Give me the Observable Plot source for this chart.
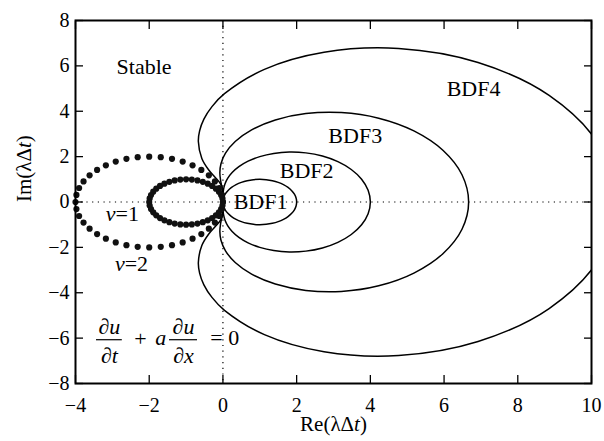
<!DOCTYPE html>
<html><head><meta charset="utf-8">
<script src="https://cdn.jsdelivr.net/npm/d3@7"></script>
<script src="https://cdn.jsdelivr.net/npm/@observablehq/plot@0.6"></script>
<style>
body{margin:0;background:#fff}
svg, svg text, svg tspan { font-family: "Liberation Serif", "Tinos", "DejaVu Serif", "Times New Roman", serif !important; }
</style>
</head><body><div id="chart"></div>
<script>
// ---- data ----
const xTicks = [-4, -2, 0, 2, 4, 6, 8, 10];
const yTicks = [-8, -6, -4, -2, 0, 2, 4, 6, 8];

const bdf1X = [0,0.0152,0.0603,0.134,0.234,0.3572,0.5,0.658,0.8264,1,1.1736,1.342,1.5,1.6428,1.766,1.866,1.9397,1.9848,2,
  1.9848,1.9397,1.866,1.766,1.6428,1.5,1.342,1.1736,1,0.8264,0.658,0.5,0.3572,0.234,0.134,0.0603,0.0152];
const bdf1Y = [0,0.1736,0.342,0.5,0.6428,0.766,0.866,0.9397,0.9848,1,0.9848,0.9397,0.866,0.766,0.6428,0.5,0.342,0.1736,0,
  -0.1736,-0.342,-0.5,-0.6428,-0.766,-0.866,-0.9397,-0.9848,-1,-0.9848,-0.9397,-0.866,-0.766,-0.6428,-0.5,-0.342,-0.1736];

const bdf2X = [0,0.0002,0.0036,0.0179,0.0547,0.1276,0.25,0.4329,0.6829,1,1.3775,1.801,2.25,2.6988,3.1189,3.4821,3.7624,3.9395,4,
  3.9395,3.7624,3.4821,3.1189,2.6988,2.25,1.801,1.3775,1,0.6829,0.4329,0.25,0.1276,0.0547,0.0179,0.0036,0.0002];
const bdf2Y = [0,0.1763,0.3627,0.567,0.7932,1.0397,1.299,1.558,1.7986,2,2.1406,2.2008,2.1651,2.0245,1.778,1.433,1.0054,0.5183,0,
  -0.5183,-1.0054,-1.433,-1.778,-2.0245,-2.1651,-2.2008,-2.1406,-2,-1.7986,-1.558,-1.299,-1.0397,-0.7932,-0.567,-0.3627,-0.1763];

const bdf3X = [0,-0.0002,-0.0033,-0.0147,-0.0377,-0.0668,-0.0833,-0.0531,0.0695,0.3333,0.7781,1.4217,2.25,3.2126,4.2253,5.1814,5.9682,6.486,6.6667,
  6.486,5.9682,5.1814,4.2253,3.2126,2.25,1.4217,0.7781,0.3333,0.0695,-0.0531,-0.0833,-0.0668,-0.0377,-0.0147,-0.0033,-0.0002];
const bdf3Y = [0,0.1746,0.3506,0.5343,0.7398,0.9876,1.299,1.6882,2.1527,2.6667,3.1788,3.6166,3.8971,3.942,3.6943,3.1324,2.2789,1.2007,0,
  -1.2007,-2.2789,-3.1324,-3.6943,-3.942,-3.8971,-3.6166,-3.1788,-2.6667,-2.1527,-1.6882,-1.299,-0.9876,-0.7398,-0.5343,-0.3506,-0.1746];

const bdf4X = [0,0,-0.0005,-0.0058,-0.0282,-0.089,-0.2083,-0.3848,-0.5722,-0.6667,-0.6326,-0.5163,-0.2973,0.042,1.125,2.744,4.7669,6.9225,8.8503,10.1879,10.6667,
  10.1879,8.8503,6.9225,4.7669,2.744,1.125,0.042,-0.2973,-0.5163,-0.6326,-0.6667,-0.5722,-0.3848,-0.2083,-0.089,-0.0282,-0.0058,-0.0005,0];
const bdf4Y = [0,0.1745,0.3482,0.5187,0.6859,0.8619,1.0825,1.4099,1.9191,2.6667,3.1323,3.6499,4.2044,4.7742,5.8457,6.5998,6.7658,6.1479,4.6974,2.5481,0,
  -2.5481,-4.6974,-6.1479,-6.7658,-6.5998,-5.8457,-4.7742,-4.2044,-3.6499,-3.1323,-2.6667,-1.9191,-1.4099,-1.0825,-0.8619,-0.6859,-0.5187,-0.3482,-0.1745];

// eigenvalue dots, large circle
const bigX = [0,-0.025,-0.098,-0.218,-0.382,-0.586,-0.824,-1.092,-1.382,-1.687,-2,-2.313,-2.618,-2.908,-3.176,-3.414,-3.618,-3.782,-3.902,-3.975,-4,
  -3.975,-3.902,-3.782,-3.618,-3.414,-3.176,-2.908,-2.618,-2.313,-2,-1.687,-1.382,-1.092,-0.824,-0.586,-0.382,-0.218,-0.098,-0.025];
const bigY = [0,0.313,0.618,0.908,1.176,1.414,1.618,1.782,1.902,1.975,2,1.975,1.902,1.782,1.618,1.414,1.176,0.908,0.618,0.313,0,
  -0.313,-0.618,-0.908,-1.176,-1.414,-1.618,-1.782,-1.902,-1.975,-2,-1.975,-1.902,-1.782,-1.618,-1.414,-1.176,-0.908,-0.618,-0.313];
// eigenvalue dots, small circle
const smallX = [0,-0.012,-0.049,-0.109,-0.191,-0.293,-0.412,-0.546,-0.691,-0.844,-1,-1.156,-1.309,-1.454,-1.588,-1.707,-1.809,-1.891,-1.951,-1.988,-2,
  -1.988,-1.951,-1.891,-1.809,-1.707,-1.588,-1.454,-1.309,-1.156,-1,-0.844,-0.691,-0.546,-0.412,-0.293,-0.191,-0.109,-0.049,-0.012];
const smallY = [0,0.156,0.309,0.454,0.588,0.707,0.809,0.891,0.951,0.988,1,0.988,0.951,0.891,0.809,0.707,0.588,0.454,0.309,0.156,0,
  -0.156,-0.309,-0.454,-0.588,-0.707,-0.809,-0.891,-0.951,-0.988,-1,-0.988,-0.951,-0.891,-0.809,-0.707,-0.588,-0.454,-0.309,-0.156];

const labelText = ["Stable", "BDF1", "BDF2", "BDF3", "BDF4", "ν=1", "ν=2"];
const labelX = [-2.14, 1.02, 2.27, 3.59, 6.80, -2.73, -2.48];
const labelY = [5.96, 0.0, 1.375, 2.92, 4.98, -0.53, -2.74];

const eqItalicText = ["∂u", "∂t", "a", "∂u", "∂x"];
const eqItalicX = [-3.08, -3.08, -1.69, -1.07, -1.07];
const eqItalicY = [-5.52, -6.79, -6.00, -5.52, -6.79];
const eqUprightText = ["+", "= 0"];
const eqUprightX = [-2.24, 0.05];
const eqUprightY = [-6.04, -6.00];
const fracBarX1 = [-3.43, -1.45];
const fracBarX2 = [-2.73, -0.69];
const fracBarY = [-6.07, -6.07];

// ---- tables ----
const curves = [];
[["BDF1", bdf1X, bdf1Y], ["BDF2", bdf2X, bdf2Y], ["BDF3", bdf3X, bdf3Y], ["BDF4", bdf4X, bdf4Y]]
  .forEach(([name, xs, ys]) => xs.forEach((x, i) => curves.push({name, x, y: ys[i]})));
const dots = [];
bigX.forEach((x, i) => dots.push({x, y: bigY[i]}));
smallX.forEach((x, i) => dots.push({x, y: smallY[i]}));
const labels = labelText.map((t, i) => ({t, x: labelX[i], y: labelY[i]}));
const eqI = eqItalicText.map((t, i) => ({t, x: eqItalicX[i], y: eqItalicY[i]}));
const eqU = eqUprightText.map((t, i) => ({t, x: eqUprightX[i], y: eqUprightY[i]}));
const bars = fracBarY.map((y, i) => ({y, x1: fracBarX1[i], x2: fracBarX2[i]}));

const font = "Liberation Serif, Tinos, DejaVu Serif, serif";
const svg = Plot.plot({
  width: 604, height: 441,
  marginLeft: 75, marginRight: 13, marginTop: 20, marginBottom: 58,
  x: {domain: [-4, 10]},
  y: {domain: [-8, 8]},
  style: {fontSize: "20px", color: "black", background: "white"},
  marks: [
    Plot.ruleX([0], {stroke: "black", strokeWidth: 1.2, strokeDasharray: "1.2,4.5"}),
    Plot.ruleY([0], {stroke: "black", strokeWidth: 1.2, strokeDasharray: "1.2,4.5"}),
    Plot.line(curves, {x: "x", y: "y", z: "name", curve: "catmull-rom-closed", stroke: "black", strokeWidth: 1.5, clip: true}),
    Plot.dot(dots, {x: "x", y: "y", r: 3.1, fill: "#111", stroke: null}),
    Plot.text(labels, {x: "x", y: "y", text: "t", fontSize: 22, fill: "black", fontFamily: font}),
    Plot.text(eqI, {x: "x", y: "y", text: "t", fontSize: 22, fontStyle: "italic", fill: "black", fontFamily: font}),
    Plot.text(eqU, {x: "x", y: "y", text: "t", fontSize: 22, fill: "black", fontFamily: font}),
    Plot.ruleY(bars, {y: "y", x1: "x1", x2: "x2", stroke: "black", strokeWidth: 1.2}),
    Plot.frame({stroke: "black", strokeWidth: 2}),
    // inward ticks
    Plot.axisX(xTicks, {anchor: "bottom", tickSize: 8, dy: -8, tickFormat: () => "", label: null, strokeWidth: 1.3}),
    Plot.axisX(xTicks, {anchor: "top", tickSize: 8, dy: 8, tickFormat: () => "", label: null, strokeWidth: 1.3}),
    Plot.axisY(yTicks, {anchor: "left", tickSize: 8, dx: 8, tickFormat: () => "", label: null, strokeWidth: 1.3}),
    Plot.axisY(yTicks, {anchor: "right", tickSize: 8, dx: -8, tickFormat: () => "", label: null, strokeWidth: 1.3}),
    // tick labels
    Plot.axisX(xTicks, {anchor: "bottom", tickSize: 0, tickPadding: 14, label: null, fontSize: 20, fill: "black", fontFamily: font}),
    Plot.axisY(yTicks, {anchor: "left", tickSize: 0, tickPadding: 6, label: null, fontSize: 20, fill: "black", fontFamily: font}),
    // axis titles
    Plot.text(["Re(λΔt)"], {frameAnchor: "bottom", dy: 47, fontSize: 21, fill: "black", fontFamily: font}),
    Plot.text(["Im(λΔt)"], {frameAnchor: "left", dx: -51, rotate: -90, fontSize: 21, fill: "black", fontFamily: font})
  ]
});

const rich = {
  "Re(λΔt)": [["Re(λΔ", 0], ["t", 1], [")", 0]],
  "Im(λΔt)": [["Im(λΔ", 0], ["t", 1], [")", 0]],
  "ν=1": [["ν", 1], ["=1", 0]],
  "ν=2": [["ν", 1], ["=2", 0]]
};
d3.select(svg).selectAll("text").each(function () {
  const parts = rich[this.textContent];
  if (!parts) return;
  const s = d3.select(this);
  s.text(null);
  for (const [t, it] of parts) s.append("tspan").attr("font-style", it ? "italic" : null).text(t);
});
document.getElementById("chart").appendChild(svg);
</script>
</body></html>
